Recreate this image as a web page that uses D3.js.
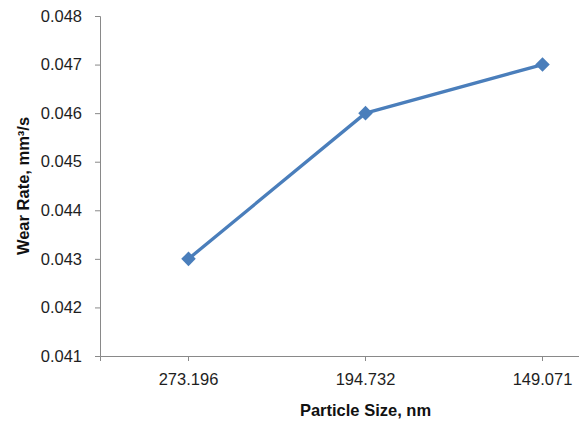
<!DOCTYPE html>
<html>
<head>
<meta charset="utf-8">
<script src="https://cdn.jsdelivr.net/npm/d3@7"></script>
<style>
  html, body { margin: 0; padding: 0; background: #fff; }
  svg { display: block; font-family: "Liberation Sans", "Open Sans", sans-serif; }
</style>
</head>
<body>
<svg id="chart" width="579" height="421"></svg>
<script>
// Wear rate against particle size
const categories = ["273.196", "194.732", "149.071"];
const wearRate = [0.043, 0.046, 0.047];
const yTicks = [0.041, 0.042, 0.043, 0.044, 0.045, 0.046, 0.047, 0.048];

const svg = d3.select("#chart");
const plot = { left: 100, top: 16, right: 631, bottom: 356 };
const axisColor = "#898989";
const lineColor = "#4a7ebb";

const x = d3.scaleBand().domain(categories).range([plot.left, plot.right]);
const y = d3.scaleLinear().domain([0.041, 0.048]).range([plot.bottom, plot.top]);

// Y axis
const yAxis = svg.append("g")
  .attr("transform", `translate(${plot.left},0)`)
  .call(d3.axisLeft(y).tickValues(yTicks).tickFormat(d3.format(".3f")).tickSize(5).tickPadding(13));
yAxis.attr("font-size", 16.5).attr("font-family", "Liberation Sans, sans-serif");
yAxis.select(".domain").attr("stroke", axisColor);
yAxis.selectAll(".tick line").attr("stroke", axisColor);
yAxis.selectAll(".tick text").attr("fill", "#1e1e1e");

// X axis with ticks under each category
const xAxis = svg.append("g")
  .attr("transform", `translate(0,${plot.bottom})`)
  .call(d3.axisBottom(x).tickSizeOuter(0).tickSize(5).tickPadding(12));
xAxis.attr("font-size", 16.5).attr("font-family", "Liberation Sans, sans-serif");
xAxis.select(".domain").attr("stroke", axisColor);
xAxis.selectAll(".tick line").attr("stroke", axisColor);
xAxis.selectAll(".tick text").attr("fill", "#1e1e1e");

// Axis titles
svg.append("text")
  .attr("x", (plot.left + plot.right) / 2)
  .attr("y", 416)
  .attr("text-anchor", "middle")
  .attr("font-size", 16.5)
  .attr("font-weight", "bold")
  .attr("fill", "#111")
  .text("Particle Size, nm");

svg.append("text")
  .attr("transform", `translate(29,${(plot.top + plot.bottom) / 2}) rotate(-90)`)
  .attr("text-anchor", "middle")
  .attr("font-size", 16.5)
  .attr("font-weight", "bold")
  .attr("fill", "#111")
  .text("Wear Rate, mm³/s");

// Series line and diamond markers
const pts = categories.map((c, i) => ({ c, v: wearRate[i] }));
const cx = d => x(d.c) + x.bandwidth() / 2;

svg.append("path")
  .datum(pts)
  .attr("fill", "none")
  .attr("stroke", lineColor)
  .attr("stroke-width", 3.3)
  .attr("stroke-linejoin", "round")
  .attr("d", d3.line().x(cx).y(d => y(d.v)));

svg.selectAll("path.marker")
  .data(pts)
  .join("path")
  .attr("class", "marker")
  .attr("fill", lineColor)
  .attr("transform", d => `translate(${cx(d)},${y(d.v)})`)
  .attr("d", d3.symbol().type(d3.symbolDiamond2).size(135));
</script>
</body>
</html>
